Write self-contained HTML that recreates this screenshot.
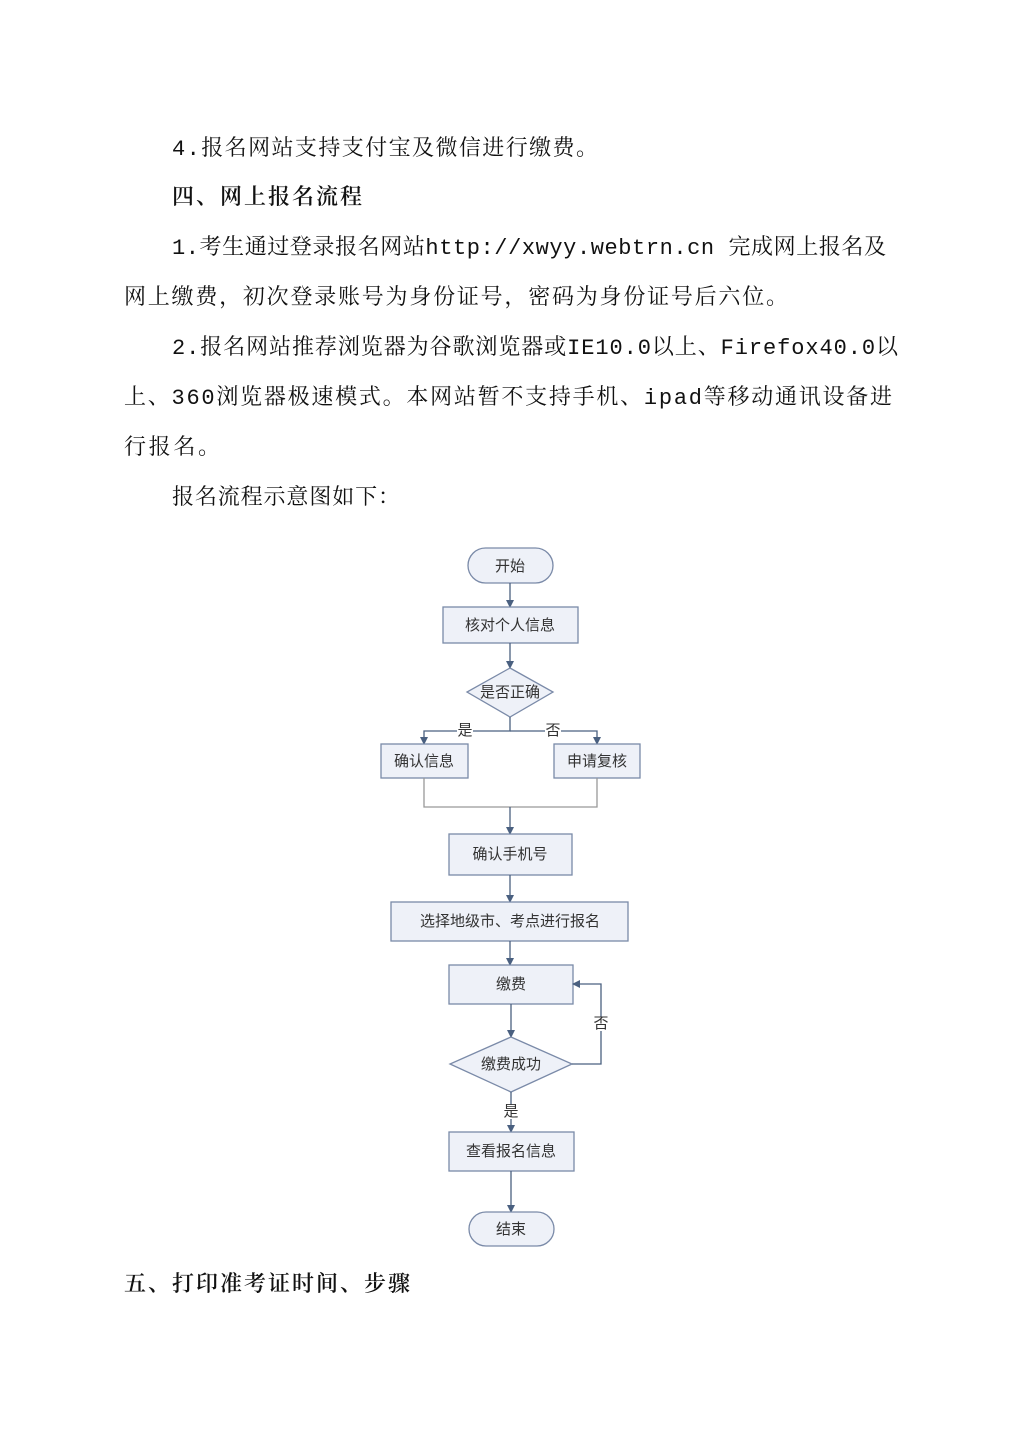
<!DOCTYPE html>
<html><head><meta charset="utf-8"><style>
html,body{margin:0;padding:0;background:#fff;}
svg{display:block}
.t{font-family:"Liberation Mono","Noto Serif CJK SC",serif;font-size:22px;fill:#111;}
.f{font-family:"Liberation Sans","Noto Sans CJK SC",sans-serif;font-size:15px;fill:#333;}
.b{fill:#eef1f8;stroke:#7a8aa8;stroke-width:1.3;}
.l{stroke:#4a6080;stroke-width:1.3;fill:none;}
</style></head><body>
<svg width="1024" height="1448" viewBox="0 0 1024 1448" xmlns="http://www.w3.org/2000/svg">
<defs><marker id="a" markerWidth="8" markerHeight="8" refX="7" refY="4" orient="auto" markerUnits="userSpaceOnUse"><path d="M0,0 L8,4 L0,8 z" fill="#4a6080"/></marker></defs>
<text class="t" x="172" y="155" textLength="426" lengthAdjust="spacing">4.报名网站支持支付宝及微信进行缴费。</text>
<text class="t" x="172" y="204" textLength="190" lengthAdjust="spacing" font-weight="600">四、网上报名流程</text>
<text class="t" x="172" y="254" textLength="714" lengthAdjust="spacing">1.考生通过登录报名网站http://xwyy.webtrn.cn  完成网上报名及</text>
<text class="t" x="124" y="304" textLength="664" lengthAdjust="spacing">网上缴费，初次登录账号为身份证号，密码为身份证号后六位。</text>
<text class="t" x="172" y="354" textLength="726" lengthAdjust="spacing">2.报名网站推荐浏览器为谷歌浏览器或IE10.0以上、Firefox40.0以</text>
<text class="t" x="124" y="404" textLength="768" lengthAdjust="spacing">上、360浏览器极速模式。本网站暂不支持手机、ipad等移动通讯设备进</text>
<text class="t" x="124" y="454" textLength="96" lengthAdjust="spacing">行报名。</text>
<text class="t" x="172" y="504" textLength="228" lengthAdjust="spacing">报名流程示意图如下：</text>
<text class="t" x="124" y="1291" textLength="286" lengthAdjust="spacing" font-weight="600">五、打印准考证时间、步骤</text>

<rect class="b" x="468" y="548" width="85" height="35" rx="17.5"/>
<text class="f" x="510" y="571" text-anchor="middle">开始</text>
<line class="l" x1="510" y1="583" x2="510" y2="607" marker-end="url(#a)"/>
<rect class="b" x="443" y="607" width="135" height="36"/>
<text class="f" x="510" y="630" text-anchor="middle">核对个人信息</text>
<line class="l" x1="510" y1="643" x2="510" y2="668" marker-end="url(#a)"/>
<polygon class="b" points="510,668 553,692 510,717 467,692"/>
<text class="f" x="510" y="697" text-anchor="middle">是否正确</text>
<polyline class="l" points="510,717 510,731 424,731 424,744" marker-end="url(#a)"/>
<polyline class="l" points="510,731 597,731 597,744" marker-end="url(#a)"/>
<rect x="457" y="722" width="16" height="16" fill="#fff"/><text class="f" x="465" y="735" text-anchor="middle">是</text>
<rect x="545" y="722" width="16" height="16" fill="#fff"/><text class="f" x="553" y="735" text-anchor="middle">否</text>
<rect class="b" x="381" y="744" width="87" height="34"/>
<text class="f" x="424" y="766" text-anchor="middle">确认信息</text>
<rect class="b" x="554" y="744" width="86" height="34"/>
<text class="f" x="597" y="766" text-anchor="middle">申请复核</text>
<polyline class="l" style="stroke:#999" points="424,778 424,807 597,807 597,778"/>
<line class="l" x1="510" y1="807" x2="510" y2="834" marker-end="url(#a)"/>
<rect class="b" x="449" y="834" width="123" height="41"/>
<text class="f" x="510" y="859" text-anchor="middle">确认手机号</text>
<line class="l" x1="510" y1="875" x2="510" y2="902" marker-end="url(#a)"/>
<rect class="b" x="391" y="902" width="237" height="39"/>
<text class="f" x="510" y="926" text-anchor="middle">选择地级市、考点进行报名</text>
<line class="l" x1="510" y1="941" x2="510" y2="965" marker-end="url(#a)"/>
<rect class="b" x="449" y="965" width="124" height="39"/>
<text class="f" x="511" y="989" text-anchor="middle">缴费</text>
<line class="l" x1="511" y1="1004" x2="511" y2="1037" marker-end="url(#a)"/>
<polygon class="b" points="511,1037 572,1064 511,1092 450,1064"/>
<text class="f" x="511" y="1069" text-anchor="middle">缴费成功</text>
<polyline class="l" points="572,1064 601,1064 601,984 573,984" marker-end="url(#a)"/>
<rect x="594" y="1017" width="14" height="14" fill="#fff"/><text class="f" x="601" y="1028" text-anchor="middle" font-size="11">否</text>
<line class="l" x1="511" y1="1092" x2="511" y2="1132" marker-end="url(#a)"/>
<rect x="504" y="1105" width="14" height="14" fill="#fff"/><text class="f" x="511" y="1116" text-anchor="middle" font-size="11">是</text>
<rect class="b" x="449" y="1132" width="125" height="39"/>
<text class="f" x="511" y="1156" text-anchor="middle">查看报名信息</text>
<line class="l" x1="511" y1="1171" x2="511" y2="1212" marker-end="url(#a)"/>
<rect class="b" x="469" y="1212" width="85" height="34" rx="17"/>
<text class="f" x="511" y="1234" text-anchor="middle">结束</text>
</svg>
</body></html>
